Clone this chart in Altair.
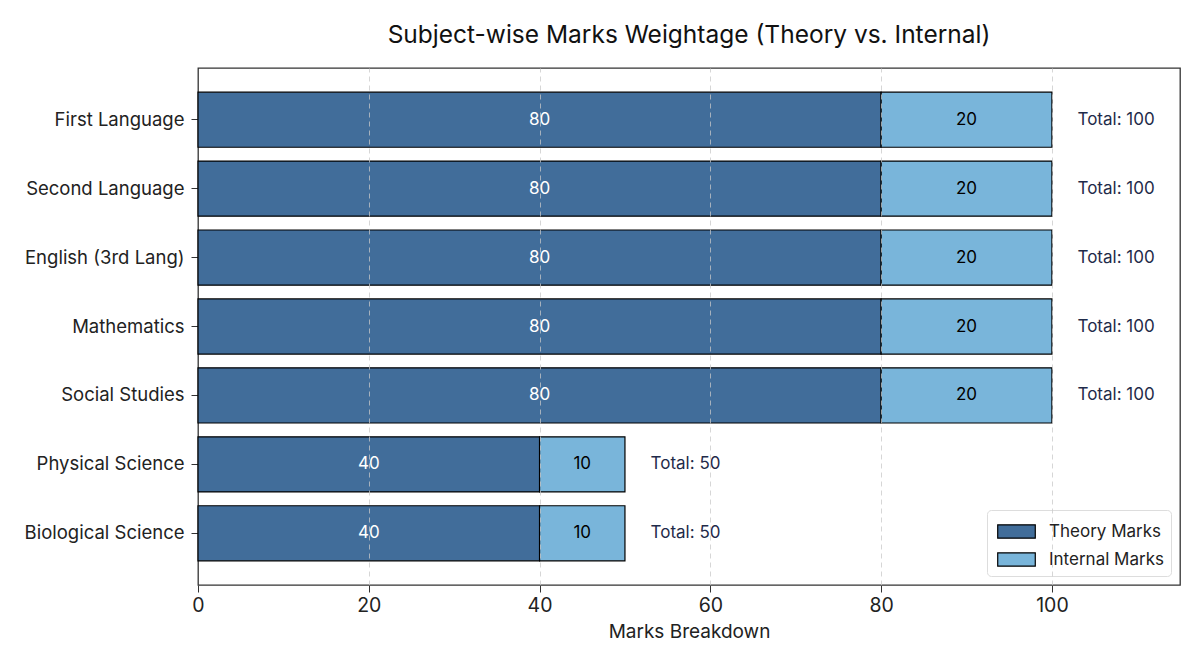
import altair as alt
import pandas as pd

subjects = ["First Language", "Second Language", "English (3rd Lang)", "Mathematics",
            "Social Studies", "Physical Science", "Biological Science"]
theory = [80, 80, 80, 80, 80, 40, 40]
internal = [20, 20, 20, 20, 20, 10, 10]
kinds = ["Theory Marks", "Internal Marks"]
colors = ["#416d9a", "#79b5da"]
text_colors = ["white", "black"]

rows = []
for s, t, i in zip(subjects, theory, internal):
    rows.append({"subject": s, "kind": kinds[0], "start": 0, "end": t, "label": str(t), "tcol": text_colors[0]})
    rows.append({"subject": s, "kind": kinds[1], "start": t, "end": t + i, "label": str(i), "tcol": text_colors[1]})
df = pd.DataFrame(rows)
df["mid"] = (df["start"] + df["end"]) / 2

tot = pd.DataFrame({"subject": subjects, "total": [t + i for t, i in zip(theory, internal)]})
tot["pos"] = tot["total"] + 3
tot["label"] = "Total: " + tot["total"].astype(str)

FONT = "Inter"

y = alt.Y("subject:N", sort=subjects, title=None,
          scale=alt.Scale(paddingInner=0.2, paddingOuter=0.35),
          axis=alt.Axis(labelFontSize=18.5, labelColor="#222", tickColor="#333", tickSize=7,
                        domain=False, labelPadding=7, labelFont=FONT))
xscale = alt.Scale(domain=[0, 115], nice=False)

bars = alt.Chart(df).mark_bar(stroke="black", strokeWidth=1.2).encode(
    x=alt.X("start:Q", scale=xscale, title="Marks Breakdown",
            axis=alt.Axis(values=[0, 20, 40, 60, 80, 100], grid=True, gridDash=[5, 4],
                          gridColor="#c8c8c8",
                          gridOpacity={"condition": {"test": "datum.value === 0", "value": 0},
                                       "value": 0.75},
                          zindex=1, labelFlush=False,
                          labelFontSize=19.5, labelColor="#222",
                          titleFontSize=19, titleFontWeight="normal", titleColor="#222",
                          tickColor="#333", tickSize=7, domain=False, labelFont=FONT,
                          titleFont=FONT, titlePadding=8, labelPadding=4)),
    x2="end:Q",
    y=y,
    color=alt.Color("kind:N", sort=kinds,
                    scale=alt.Scale(domain=kinds, range=colors),
                    legend=alt.Legend(title=None, orient="bottom-right", offset=9,
                                      symbolType="M-1.4,-0.5L1.4,-0.5L1.4,0.5L-1.4,0.5Z",
                                      symbolSize=720, symbolStrokeColor="black",
                                      symbolStrokeWidth=1.2, symbolOpacity=1,
                                      labelFontSize=17, labelColor="#222", labelFont=FONT,
                                      strokeColor="#dddddd", cornerRadius=4, padding=7,
                                      fillColor="white", rowPadding=4, symbolOffset=8,
                                      labelOffset=18)),
)

inner = alt.Chart(df).mark_text(fontSize=17, font=FONT).encode(
    x=alt.X("mid:Q", scale=xscale),
    y=alt.Y("subject:N", sort=subjects),
    text="label:N",
    color=alt.Color("tcol:N", scale=None),
)

totals = alt.Chart(tot).mark_text(fontSize=17, font=FONT, align="left", color="#1f2b4a").encode(
    x=alt.X("pos:Q", scale=xscale),
    y=alt.Y("subject:N", sort=subjects),
    text="label:N",
)

chart = alt.layer(bars, inner, totals).properties(
    width=982, height=517,
    title=alt.Title("Subject-wise Marks Weightage (Theory vs. Internal)", fontSize=24.5,
                    fontWeight="normal", font=FONT, color="#111", offset=20),
    padding={"left": 16, "top": 14, "right": 5, "bottom": 5},
).configure(font=FONT).configure_view(stroke="#333", strokeWidth=1.3)

chart.save("out.html", embed_options={"renderer": "svg", "actions": False})
